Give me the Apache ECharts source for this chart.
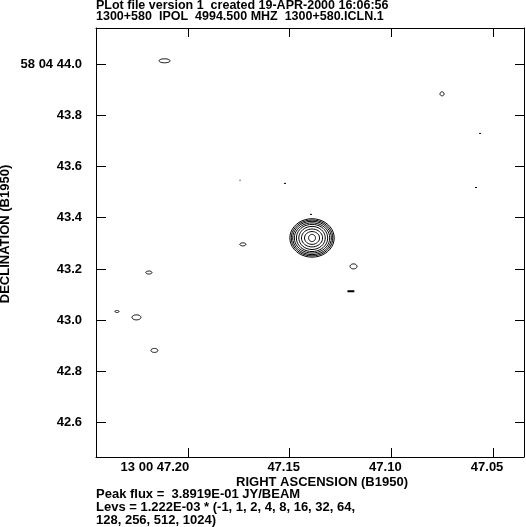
<!DOCTYPE html>
<html><head><meta charset="utf-8">
<script src="https://cdn.jsdelivr.net/npm/echarts@6/dist/echarts.min.js"></script>
<style>html,body{margin:0;padding:0;background:#fff}#c{width:526px;height:527px}</style>
</head><body><div id="c"></div>
<script>
// Axis ticks / labels
const raTicks = [47.20, 47.15, 47.10, 47.05];
const raTickLabels = ['13 00 47.20', '47.15', '47.10', '47.05'];
const decTicks = [44.0, 43.8, 43.6, 43.4, 43.2, 43.0, 42.8, 42.6];
const decTickLabels = ['58 04 44.0', '43.8', '43.6', '43.4', '43.2', '43.0', '42.8', '42.6'];
const raLimits = [47.0348, 47.2452];
const decLimits = [42.466, 44.1405];

// Main source contours (levels x 1.222E-03 JY/BEAM)
const sourceRA = 47.139;
const sourceDec = 43.321;
const levelMultipliers = [1, 2, 4, 8, 16, 32, 64, 128, 256];
const levelSemiRA = [0.0109, 0.0102, 0.0095, 0.0087, 0.0077, 0.0065, 0.0052, 0.0037, 0.0017];
const levelSemiDec = [0.075, 0.070, 0.065, 0.059, 0.053, 0.045, 0.035, 0.025, 0.014];

// Small lowest-level noise contours
const blobRA = [47.2115, 47.0751, 47.1186, 47.2253, 47.2165, 47.2192, 47.2349, 47.1730];
const blobDec = [44.0125, 43.8836, 43.210, 43.011, 42.882, 43.186, 43.034, 43.296];
const blobSemiRA = [0.0027, 0.0010, 0.0017, 0.0022, 0.0017, 0.0015, 0.0010, 0.0015];
const blobSemiDec = [0.0078, 0.0078, 0.0098, 0.0098, 0.0078, 0.0059, 0.0040, 0.0059];

// Tiny contour fragments
const dashRA = [47.0564, 47.0584, 47.1744, 47.1523, 47.1395, 47.1199];
const dashDec = [43.729, 43.518, 43.546, 43.534, 43.413, 43.113];
const dashWidthRA = [0.0010, 0.0010, 0.0005, 0.0010, 0.0010, 0.0034];
const dashHeightDec = [0.004, 0.004, 0.004, 0.004, 0.004, 0.008];

const FONT = 'Liberation Sans, Arial, Helvetica, sans-serif';
const txt = {fontFamily: FONT, fontWeight: 'bold', fontSize: 13, color: '#000'};

const ringData = levelSemiRA.map((r, i) => [sourceRA, sourceDec, r, levelSemiDec[i], levelMultipliers[i]]);
const blobData = blobRA.map((r, i) => [r, blobDec[i], blobSemiRA[i], blobSemiDec[i], 1]);
const dashData = dashRA.map((r, i) => [r, dashDec[i], dashWidthRA[i], dashHeightDec[i]]);

function ellipseItem(params, api) {
  const c = api.coord([api.value(0), api.value(1)]);
  const s = api.size([api.value(2), api.value(3)]);
  const n = 40, pts = [];
  for (let k = 0; k < n; k++) {
    const t = 2 * Math.PI * k / n;
    pts.push([c[0] + s[0] * Math.cos(t), c[1] + s[1] * Math.sin(t)]);
  }
  return {type: 'polygon', shape: {points: pts}, style: {fill: 'none', stroke: '#000', lineWidth: 1}};
}
function dashItem(params, api) {
  const c = api.coord([api.value(0), api.value(1)]);
  const s = api.size([api.value(2), api.value(3)]);
  return {type: 'rect', shape: {x: c[0] - s[0] / 2, y: c[1] - s[1] / 2, width: Math.max(1, s[0]), height: Math.max(1, s[1])},
          style: {fill: '#000'}};
}

function raFmt(v) {
  const i = raTicks.findIndex(t => Math.abs(t - v) < 1e-6);
  if (i < 0) return '';
  return i === 0 ? '{f|' + raTickLabels[i] + '}' : '{n|' + raTickLabels[i] + '}';
}
function decFmt(v) {
  const i = decTicks.findIndex(t => Math.abs(t - v) < 1e-6);
  return i < 0 ? '' : decTickLabels[i];
}

const chart = echarts.init(document.getElementById('c'), null, {renderer: 'canvas'});
chart.setOption({
  animation: false,
  backgroundColor: '#fff',
  title: [
    {left: 96, top: 0, text: 'PLot file version 1  created 19-APR-2000 16:06:56\n1300+580  IPOL  4994.500 MHZ  1300+580.ICLN.1',
     textStyle: {fontFamily: FONT, fontWeight: 'bold', fontSize: 12.5, color: '#000', lineHeight: 11}, padding: 0},
    {left: 96, top: 488, text: 'Peak flux =  3.8919E-01 JY/BEAM\nLevs = 1.222E-03 * (-1, 1, 2, 4, 8, 16, 32, 64,\n128, 256, 512, 1024)',
     textStyle: {fontFamily: FONT, fontWeight: 'bold', fontSize: 13, color: '#000', lineHeight: 13}, padding: 0}
  ],
  grid: {left: 96, right: 2, top: 28, bottom: 70, show: false, containLabel: false, outerBoundsMode: 'none'},
  xAxis: [
    {type: 'value', position: 'bottom', min: raLimits[0], max: raLimits[1], inverse: true,
     axisLine: {show: true, onZero: false, lineStyle: {color: '#000', width: 1}},
     axisTick: {show: true, inside: true, length: 9, customValues: raTicks, lineStyle: {color: '#000', width: 1}},
     axisLabel: {show: true, customValues: raTicks, margin: 4, formatter: raFmt, ...txt,
       rich: {f: {...txt, padding: [0, 66, 0, 0]}, n: {...txt, padding: [0, 12, 0, 0]}}},
     splitLine: {show: false},
     name: 'RIGHT ASCENSION (B1950)', nameLocation: 'middle', nameGap: 19, nameMoveOverlap: false,
     nameTextStyle: {...txt, padding: [0, 0, 0, 24]}},
    {type: 'value', position: 'top', min: raLimits[0], max: raLimits[1], inverse: true,
     axisLine: {show: true, onZero: false, lineStyle: {color: '#000', width: 1}},
     axisTick: {show: true, inside: true, length: 9, customValues: raTicks, lineStyle: {color: '#000', width: 1}},
     axisLabel: {show: false}, splitLine: {show: false}}
  ],
  yAxis: [
    {type: 'value', position: 'left', min: decLimits[0], max: decLimits[1],
     axisLine: {show: true, onZero: false, lineStyle: {color: '#000', width: 1}},
     axisTick: {show: true, inside: true, length: 10, customValues: decTicks, lineStyle: {color: '#000', width: 1}},
     axisLabel: {show: true, customValues: decTicks, margin: 14, formatter: decFmt, ...txt},
     splitLine: {show: false},
     name: 'DECLINATION (B1950)', nameLocation: 'middle', nameGap: 84, nameRotate: 90, nameMoveOverlap: false,
     nameTextStyle: {...txt, padding: [0, 0, 0, 17]}},
    {type: 'value', position: 'right', min: decLimits[0], max: decLimits[1],
     axisLine: {show: true, onZero: false, lineStyle: {color: '#000', width: 1}},
     axisTick: {show: true, inside: true, length: 9, customValues: decTicks, lineStyle: {color: '#000', width: 1}},
     axisLabel: {show: false}, splitLine: {show: false}}
  ],
  series: [
    {type: 'custom', name: 'source', renderItem: ellipseItem, data: ringData, clip: true,
     encode: {x: 0, y: 1}, silent: true},
    {type: 'custom', name: 'noise', renderItem: ellipseItem, data: blobData, clip: true,
     encode: {x: 0, y: 1}, silent: true},
    {type: 'custom', name: 'fragments', renderItem: dashItem, data: dashData, clip: true,
     encode: {x: 0, y: 1}, silent: true}
  ]
});
</script></body></html>
